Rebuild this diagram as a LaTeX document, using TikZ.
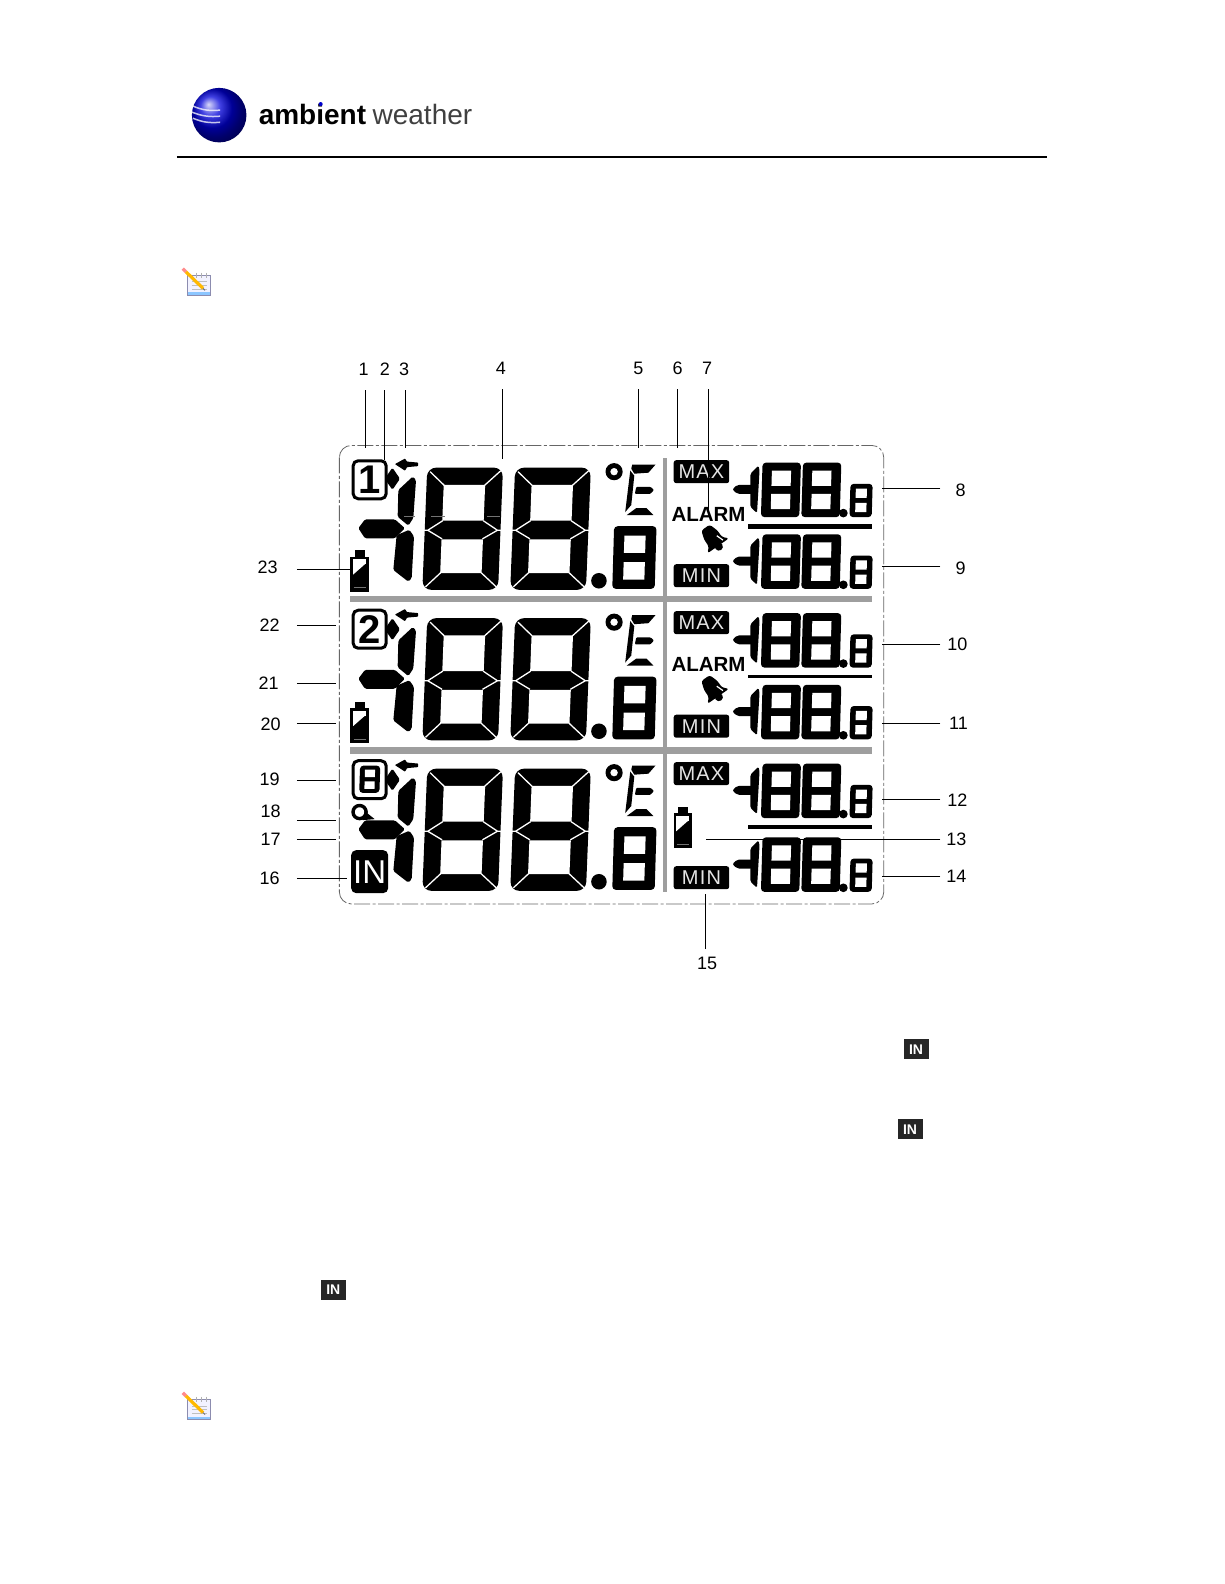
\documentclass[tikz,border=0pt]{standalone}
\usepackage{fontspec}
\setmainfont{Liberation Sans}
\newfontfamily\lcdfont[LetterSpace=6]{Liberation Sans}
\tikzset{
  lcd/.style={fill=black,draw=none},
  leader/.style={draw=black,line width=0.9pt},
  numlabel/.style={inner sep=0pt,font=\fontsize{18}{18}\selectfont,text=black,yshift=-1pt},
  sep/.style={fill=black!38,draw=none},
  tagbox/.style={fill=black,rounded corners=2.5pt,text=black!10,inner sep=0pt,minimum width=55.5pt,minimum height=23pt,font=\lcdfont\fontsize{20}{20}\selectfont},
  alarmtext/.style={inner sep=0pt,font=\bfseries\fontsize{20.5}{21}\selectfont,text=black},
  inicon/.style={fill=black!85,text=white,inner sep=0pt,minimum width=25pt,minimum height=20pt,font=\bfseries\fontsize{14}{14}\selectfont},
  chanbox/.style={draw=black,line width=3pt,rounded corners=5pt,minimum width=33pt,minimum height=38pt,inner sep=0pt,font=\bfseries\fontsize{40}{40}\selectfont},
  noteicon/.pic={
    \fill[blue!5,draw=blue!30!black!45,line width=0.8pt] (-9,-7) rectangle (13,12);
    \fill[blue!50!cyan!45] (-9,9.5) rectangle (13,12);
    \draw[black!25,line width=0.6pt] (-5,-1)--(10,-1) (-5,2.5)--(10,2.5) (-5,6)--(10,6);
    \draw[black!30,line width=.8pt] (-1,-10)--(-1,-5) (4,-10)--(4,-5) (9,-10)--(9,-5);
    \draw[orange!55!yellow,line width=3.2pt] (-11,-11)--(6,5.5);
    \draw[red!45!white,line width=3.2pt] (-14,-14)--(-11,-11);
    \draw[black!55,line width=1pt] (6,5.5)--(8,7.5);
  },
}
% large seven segment digit, top-left origin, 75 x 121
\newcommand\bigdigit[2]{%
\begin{scope}[shift={(#1,#2)},xslant=.04]
\fill[lcd,rounded corners=9pt] (0,0) rectangle (75,121);
\fill[white] (17,17) rectangle (58,52.5);
\fill[white] (17,71) rectangle (58,104.5);
\draw[white,line width=1.3pt] (17.5,17.5)--(3,4) (57.5,17.5)--(73,3);
\draw[white,line width=1.3pt] (17.5,52.5)--(3,62)--(17.5,70.5) (-2,62)--(3,62);
\draw[white,line width=1.3pt] (57.5,52.5)--(72,62)--(57.5,70.5) (77,62)--(72,62);
\draw[white,line width=1.3pt] (17.5,104)--(3,118) (57.5,104)--(73,118);
\end{scope}}
% block digit: x y w h
\newcommand\blockdigit[4]{%
\begin{scope}[shift={(#1,#2)},xscale=#3/38,yscale=#4/54,xslant=.03]
\fill[lcd,rounded corners=3.5pt] (0,0) rectangle (38,54);
\fill[white] (9.5,8) rectangle (28.5,23);
\fill[white] (9.5,31) rectangle (28.5,46);
\end{scope}}
% -188.8 small group
\newcommand\smallgroup[1]{%
\begin{scope}[shift={(0,#1)}]
\fill[lcd,rounded corners=2pt] (725,484.5)--(730,480)--(745,480)--(749,484)--(745,489)--(730,489)--cycle;
\fill[lcd,rounded corners=1.5pt] (743,469)--(751,461)--(752,466)--(749.5,508)--(743,502)--cycle;
\blockdigit{755}{458}{38}{54}
\blockdigit{795}{458}{38}{54}
\fill[lcd] (835,508) circle (4.3);
\blockdigit{842}{479}{22}{33}
\end{scope}}
% big number group
\newcommand\biggroup[1]{%
\begin{scope}[shift={(0,#1)}]
\fill[lcd,rounded corners=1.5pt] (394.4,485.1)--(408.6,471.9)--(411.9,475.2)--(409.2,513)--(404.3,520.4)--(393.7,511.6)--cycle;
\fill[lcd,rounded corners=1.5pt] (405.3,524.5)--(409.9,531.2)--(407.6,572.5)--(404.3,575.9)--(389.4,564.3)--(392.7,529.9)--cycle;
\fill[lcd,rounded corners=1.5pt] (354.8,523)--(361.4,514.2)--(391,514.2)--(400.9,523)--(391,533)--(361.4,533)--cycle;
\bigdigit{423}{463}
\bigdigit{510}{463}
\fill[lcd] (593,575) circle (7.7);
\blockdigit{608}{521}{42}{62}
\fill[lcd,even odd rule] (608,467) circle (8.5) (608,467) circle (3.8);
\begin{scope}[shift={(620,460)}]
\fill[lcd] (6,0)--(29,0)--(22,8)--(8,9)--(5,4)--cycle;
\fill[lcd] (4,6)--(8,11)--(5,40)--(-1,47)--cycle;
\fill[lcd,rounded corners=1pt] (10,22)--(24,22)--(27.5,25)--(24,29)--(8.5,29)--cycle;
\fill[lcd] (0.5,50)--(10,43)--(20,43)--(27,50)--cycle;
\end{scope}
\fill[lcd,rounded corners=1.5pt] (381,474)--(388.5,463)--(396,474)--(388.5,485)--cycle;
\fill[lcd,rounded corners=.6pt] (391,459.5)--(401,454)--(403,457)--(414,458)--(414,461.5)--(403,462.5)--(401,466)--cycle;
\end{scope}}
% battery
\newcommand\battery[2]{%
\begin{scope}[shift={(#1,#2)}]
\fill[lcd] (0,6) rectangle (18,41);
\fill[lcd] (4,0) rectangle (14,7);
\fill[white] (2.5,8.5) rectangle (15.5,13.5);
\fill[white] (2.5,13)--(15,13)--(2.5,24)--cycle;
\draw[black!55,line width=.8pt] (3,37)--(15,37);
\end{scope}}
\newcommand\bell[2]{%
\begin{scope}[shift={(#1,#2)},rotate=35]
\fill[lcd,rounded corners=2.5pt] (-5,-13)--(5,-13)--(8,-4)--(8,4)--(13,9)--(-13,9)--(-8,4)--(-8,-4)--cycle;
\fill[lcd] (0,10) circle (4);
\draw[white,line width=1.2pt] (4.5,0)--(7,7);
\end{scope}}
\begin{document}
\begin{tikzpicture}[x=1.01pt,y=-1.01pt]
\useasboundingbox (0,0) rectangle (1211.88,1568.3);
\fill[white] (0,0) rectangle (1211.88,1568.3);
% header
\shade[ball color=blue!85!black] (217,114) circle (27);
\draw[white,opacity=.75,line width=1.5pt] (191,105) .. controls (200,109) and (208,110) .. (218,109);
\draw[white,opacity=.75,line width=1.5pt] (190,111) .. controls (200,115) and (208,116) .. (218,115);
\draw[white,opacity=.75,line width=1.5pt] (191,117) .. controls (200,121) and (208,122) .. (218,121);
\node[anchor=west,inner sep=0pt] (logo) at (256,113) {\fontsize{28}{28}\selectfont\textbf{ambient}\hspace{6.5pt}\textcolor{black!75}{weather}};
\fill[blue!80!black] (317.5,103) circle (2);
\draw[black,line width=2pt] (175,155) -- (1037,155);
% notes
\pic at (195,280) {noteicon};
\pic at (195,1393) {noteicon};
% in icons
\node[inicon] (in1) at (907,1039) {IN};
\node[inicon] (in2) at (901,1118) {IN};
\node[inicon] (in3) at (330,1277) {IN};
% LCD outline
\draw[black!60,line width=.8pt,rounded corners=12pt,dash pattern=on 16pt off 2.5pt on 3pt off 2.5pt] (336,441) rectangle (875,895);
% separators
\fill[sep] (347,590) rectangle (863,596.5);
\fill[sep] (347,740) rectangle (863,746.5);
\fill[sep] (656.5,453) rectangle (660.5,883);
% groups
\biggroup{0}\biggroup{149}\biggroup{298}
\draw[black!55,line width=.8pt] (400,511)--(411,511) (427,511)--(441,511) (482,511)--(495,511);
\smallgroup{0}\smallgroup{71}
\smallgroup{149}\smallgroup{220}
\smallgroup{298}\smallgroup{371}
\fill[lcd] (741,518.5) rectangle (863,523.5);
\fill[lcd] (741,668) rectangle (863,671);
\fill[lcd] (741,817) rectangle (863,821);
% tags
\foreach \n/\mx/\mn in {1/467/570,2/616.5/719,3/766/869}{
  \node[tagbox] (max\n) at (694.5,\mx) {MAX};
  \node[tagbox] (min\n) at (694.5,\mn) {MIN};
}
\node[alarmtext] (alarmA) at (701.5,509) {ALARM};
\node[alarmtext] (alarmB) at (701.5,658) {ALARM};
\bell{706}{533}
\bell{706}{682}
% channel boxes
\node[chanbox] (chanA) at (366,475) {1};
\node[chanbox] (chanB) at (366,623) {2};
\node[chanbox] (chanC) at (366,772) {};
\blockdigit{356.5}{758}{20}{27}
% batteries
\battery{347}{545}
\battery{347}{695}
\battery{667}{799}
% Q mark and IN
\draw[black,line width=3.4pt] (356,804) circle (6.5);
\fill[lcd] (361,803)--(371,811)--(359,812)--cycle;
\node[fill=black,rounded corners=5pt,text=white,inner sep=0pt,minimum width=37pt,minimum height=43pt,font=\fontsize{33}{33}\selectfont] (inbox) at (366,863) {IN};
% labels and connectors
\foreach \n/\lx/\ly/\ex/\ey in {1/360/365/362/444,2/381/365/381/455,3/400/365/401/444,4/496/364/497/454,5/632/364/632.5/444,6/671/364/671/444,7/700/364/701/505}{
  \node[numlabel] (l\n) at (\lx,\ly) {\n};
  \coordinate (e\n) at (\ex,\ey);
  \draw[leader,shorten <=14pt] (l\n.south -| e\n) -- (e\n);
}
\foreach \n/\lx/\ly/\ey/\ex in {8/951/484/484/873,9/951/562/561/873,10/948/637/638/873,11/949/715/716/873,12/948/791/792/873,13/947/830/831/699,14/947/867/868/873}{
  \node[numlabel] (l\n) at (\lx,\ly) {\n};
  \coordinate (s\n) at (931,\ey);
  \coordinate (e\n) at (\ex,\ey);
  \draw[leader] (s\n) -- (e\n);
}
\node[numlabel] (l15) at (700,953) {15};
\coordinate (e15) at (698,885);
\draw[leader,shorten <=8pt] (l15.north -| e15) -- (e15);
\foreach \n/\lx/\ly/\ey/\ex in {16/267/869/870/344,17/268/830/831/333,18/268/802/812/333,19/267/771/773/333,20/268/716/716/333,21/266/675/677/333,22/267/618/619/333,23/265/561/564/348}{
  \node[numlabel] (l\n) at (\lx,\ly) {\n};
  \coordinate (s\n) at (294,\ey);
  \coordinate (e\n) at (\ex,\ey);
  \draw[leader] (s\n) -- (e\n);
}
\end{tikzpicture}
\end{document}
